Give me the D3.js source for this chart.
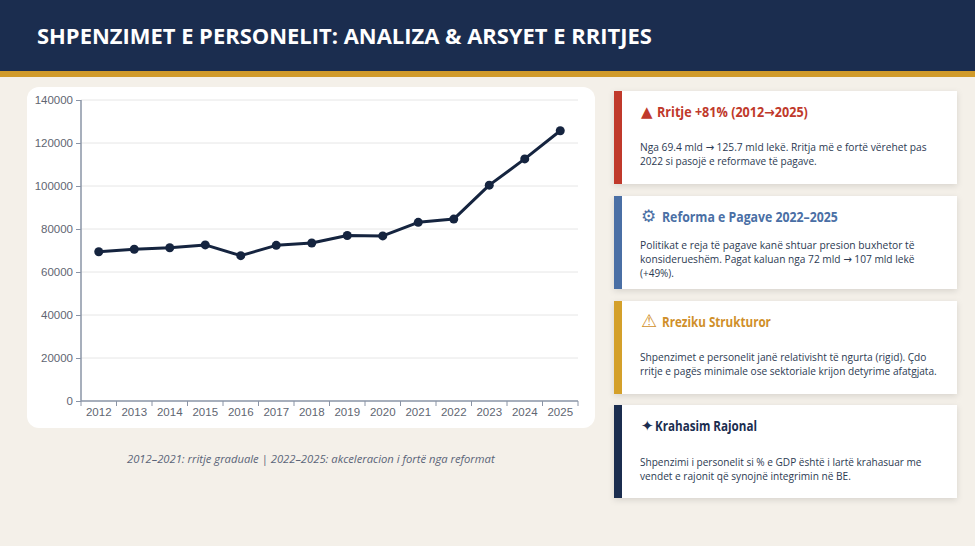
<!DOCTYPE html>
<html><head><meta charset="utf-8">
<script src="https://cdn.jsdelivr.net/npm/d3@7"></script>
<style>
html,body{margin:0;padding:0;background:#f4f0e9;}
svg{display:block;}
</style></head>
<body>
<svg id="c" width="975" height="546"></svg>
<script>
const years = ["2012","2013","2014","2015","2016","2017","2018","2019","2020","2021","2022","2023","2024","2025"];
const spending = [69400,70600,71300,72600,67600,72400,73500,77000,76800,83100,84600,100400,112600,125700];
const yTicks = [0,20000,40000,60000,80000,100000,120000,140000];
const title = "SHPENZIMET E PERSONELIT: ANALIZA & ARSYET E RRITJES";
const caption = "2012–2021: rritje graduale | 2022–2025: akceleracion i fortë nga reformat";
const cardIcons = ["▲","⚙","⚠","✦"];
const cardTitles = ["Rritje +81% (2012→2025)","Reforma e Pagave 2022–2025","Rreziku Strukturor","Krahasim Rajonal"];
const cardBodies = [
  ["Nga 69.4 mld → 125.7 mld lekë. Rritja më e fortë vërehet pas","2022 si pasojë e reformave të pagave."],
  ["Politikat e reja të pagave kanë shtuar presion buxhetor të","konsiderueshëm. Pagat kaluan nga 72 mld → 107 mld lekë","(+49%)."],
  ["Shpenzimet e personelit janë relativisht të ngurta (rigid). Çdo","rritje e pagës minimale ose sektoriale krijon detyrime afatgjata."],
  ["Shpenzimi i personelit si % e GDP është i lartë krahasuar me","vendet e rajonit që synojnë integrimin në BE."]
];
const cardColors = ["#c0392b","#4a6fa5","#d4a02a","#1b2d4f"];
const cardTitleColors = ["#c0392b","#4a6fa5","#d08f2a","#1b2d4f"];

const svg = d3.select("#c");
const FONT = "'Open Sans', 'Noto Sans', sans-serif";

// horizontally scale a text element so its width equals w (anchored at its x)
function fit(sel, w){
  sel.each(function(){
    const t = d3.select(this);
    const L = this.getComputedTextLength();
    const sx = w / L;
    const x0 = +t.attr("x"), y0 = +t.attr("y");
    t.attr("x",0).attr("y",0).attr("transform",`translate(${x0},${y0}) scale(${sx.toFixed(4)},1)`);
  });
}
function richText(sel, str){
  const parts = str.split("→");
  parts.forEach((p,i)=>{
    if (i>0) sel.append("tspan").style("font-family","'DejaVu Sans', sans-serif").text("→");
    if (p.length) sel.append("tspan").text(p);
  });
  return sel;
}

const defs = svg.append("defs");
const f = defs.append("filter").attr("id","sh").attr("x","-10%").attr("y","-20%").attr("width","120%").attr("height","150%");
f.append("feDropShadow").attr("dx",0).attr("dy",2).attr("stdDeviation",3).attr("flood-color","#000").attr("flood-opacity",0.12);

svg.append("rect").attr("width",975).attr("height",546).attr("fill","#f4f0e9");
svg.append("rect").attr("width",975).attr("height",72).attr("fill","#1b2d4f");
svg.append("rect").attr("y",71).attr("width",975).attr("height",6).attr("fill","#d09a2a");
svg.append("text").attr("x",37).attr("y",44).attr("fill","#fff")
  .style("font-family",FONT).style("font-weight",700).style("font-size","22px")
  .text(title).call(fit,615);

svg.append("rect").attr("x",27).attr("y",87).attr("width",568).attr("height",341).attr("rx",12).attr("fill","#fff");

const x = d3.scaleBand().domain(years).range([81,578]);
const y = d3.scaleLinear().domain([0,140000]).range([401,100]);

const g = svg.append("g");
g.selectAll("line.grid").data(yTicks.slice(1)).join("line")
  .attr("x1",81).attr("x2",578).attr("y1",d=>y(d)).attr("y2",d=>y(d))
  .attr("stroke","#e6e6e6").attr("stroke-width",1);

const axisColor = "#8a94a6";
const yAxis = g.append("g").attr("transform","translate(81,0)")
  .call(d3.axisLeft(y).tickValues(yTicks).tickFormat(d3.format("d")).tickSize(5).tickPadding(3));
const xAxis = g.append("g").attr("transform","translate(0,401)")
  .call(d3.axisBottom(x).tickSize(0).tickPadding(7));
xAxis.selectAll("line.bt").data(years.map(d=>x(d)).concat([x.range()[1]])).join("line")
  .attr("class","bt").attr("x1",d=>d).attr("x2",d=>d).attr("y1",0).attr("y2",5).attr("stroke",axisColor);
[yAxis,xAxis].forEach(a=>{
  a.selectAll(".domain").attr("stroke",axisColor).attr("stroke-width",1.5);
  a.selectAll(".tick line").attr("stroke",axisColor);
  a.selectAll("text").attr("fill","#5f6672").style("font-family","'Liberation Sans', Arial, sans-serif").style("font-size","11.5px");
});
yAxis.select(".domain").attr("d","M0,100V401");
xAxis.select(".domain").attr("d","M81,0H578");

const cx = d => x(d)+x.bandwidth()/2;
const line = d3.line().x((d,i)=>cx(years[i])).y(d=>y(d));
g.append("path").datum(spending).attr("d",line).attr("fill","none")
  .attr("stroke","#15243f").attr("stroke-width",3).attr("stroke-linejoin","round");
g.selectAll("circle").data(spending).join("circle")
  .attr("cx",(d,i)=>cx(years[i])).attr("cy",d=>y(d)).attr("r",4.5).attr("fill","#15243f");

svg.append("text").attr("x",127).attr("y",463)
  .attr("fill","#5a6478").style("font-family",FONT).style("font-style","italic").style("font-size","11px")
  .text(caption).call(fit,368);

const cardY = [91,196,301,405];
const cardH = 93;
const titleW = [151,176,109,102];
const titleX = [657,662,662,655];
const bodyW = [[287,177],[275,275,34],[287,297],[282,211]];
const bodyDY = [[56,70],[49,63,77],[56,70],[56.5,70.5]];
const iconSize = ["15px","17px","18px","15px"];
cardTitles.forEach((t,i)=>{
  const cg = svg.append("g").attr("transform",`translate(614,${cardY[i]})`);
  cg.append("rect").attr("width",343).attr("height",cardH).attr("fill","#fff").attr("filter","url(#sh)");
  cg.append("rect").attr("width",8).attr("height",cardH).attr("fill",cardColors[i]);
  const ty = 26;
  cg.append("text").attr("x",27).attr("y",ty).attr("fill",cardTitleColors[i])
    .style("font-family","'DejaVu Sans', sans-serif").style("font-size",iconSize[i])
    .style("font-weight",i===2?400:700).text(cardIcons[i]);
  cg.append("text").attr("x",titleX[i]-614).attr("y",ty).attr("fill",cardTitleColors[i])
    .style("font-family",FONT).style("font-weight",700).style("font-size","14px")
    .call(richText,t).call(fit,titleW[i]);
  cardBodies[i].forEach((l,j)=>{
    cg.append("text").attr("x",26).attr("y",bodyDY[i][j]+4).attr("fill","#2c3a52")
      .style("font-family",FONT).style("font-size","11px")
      .call(richText,l).call(fit,bodyW[i][j]);
  });
});
</script>
</body></html>
